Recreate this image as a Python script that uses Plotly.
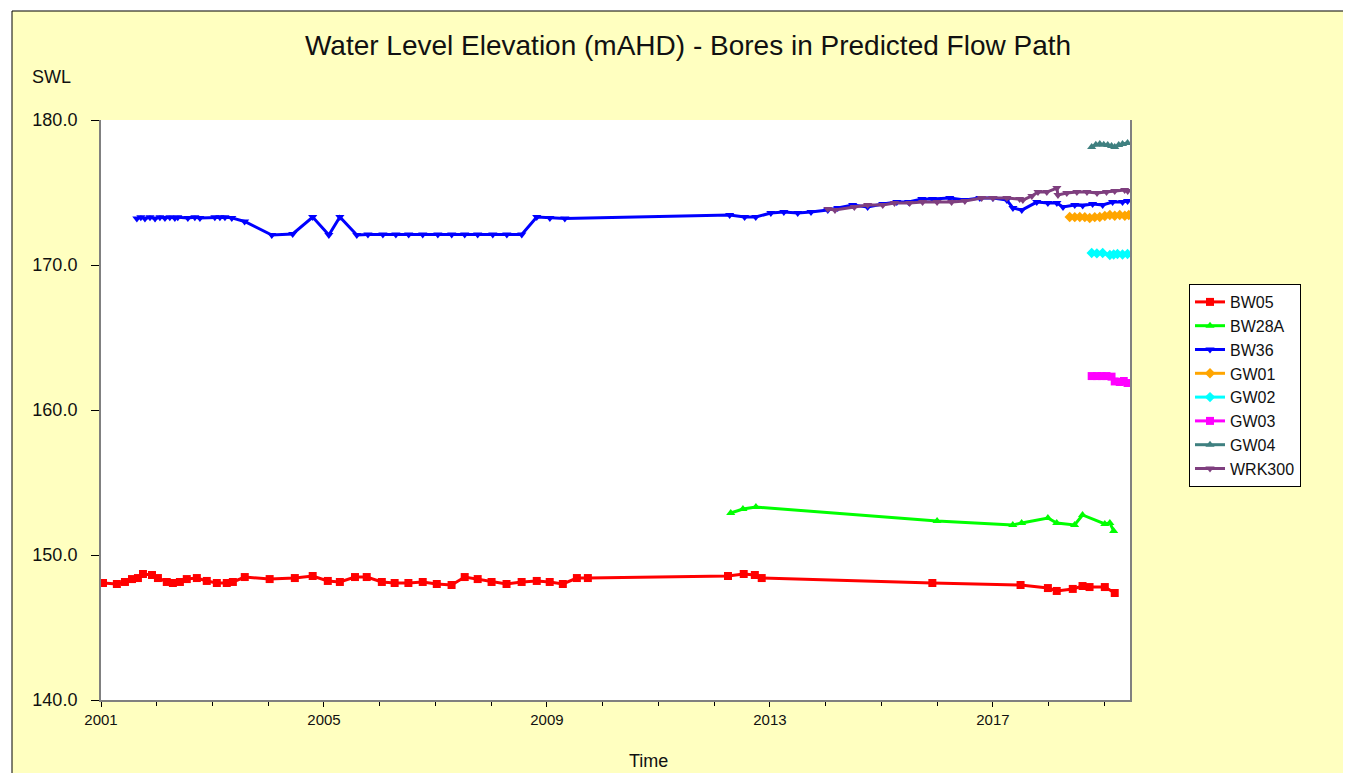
import plotly.graph_objects as go

# --- data (dates, SWL mAHD) ---
bw05_dates = [
    "2001-01-14", "2001-04-15", "2001-06-07", "2001-07-23", "2001-08-31", "2001-10-03",
    "2001-12-01", "2002-01-09", "2002-03-08", "2002-04-17", "2002-06-02", "2002-07-17",
    "2002-09-21", "2002-11-25", "2003-01-30", "2003-04-05", "2003-05-15", "2003-08-01",
    "2004-01-11", "2004-06-24", "2004-10-19", "2005-01-26", "2005-04-15", "2005-07-23",
    "2005-10-08", "2006-01-15", "2006-04-09", "2006-07-08", "2006-10-10", "2007-01-10",
    "2007-04-17", "2007-07-12", "2007-10-05", "2008-01-04", "2008-04-11", "2008-07-19",
    "2008-10-26", "2009-01-19", "2009-04-15", "2009-07-16", "2009-09-26",
    "2012-04-01", "2012-07-13", "2012-09-24", "2012-11-08", "2015-12-01", "2017-07-01",
    "2017-12-27", "2018-02-23", "2018-06-08", "2018-08-11", "2018-09-26", "2019-01-04",
    "2019-03-10",
]
bw05_swl = [
    148.07, 148.00, 148.14, 148.34, 148.41, 148.69,
    148.62, 148.41, 148.14, 148.07, 148.14, 148.34,
    148.41, 148.21, 148.07, 148.07, 148.14, 148.48,
    148.34, 148.41, 148.55, 148.21, 148.14, 148.48,
    148.48, 148.14, 148.07, 148.07, 148.14, 148.00,
    147.93, 148.48, 148.34, 148.14, 148.00, 148.14,
    148.21, 148.14, 148.00, 148.41, 148.41,
    148.55, 148.69, 148.62, 148.41, 148.07, 147.93,
    147.72, 147.52, 147.66, 147.86, 147.79, 147.79,
    147.38,
]

bw28a_dates = [
    "2012-04-19", "2012-07-08", "2012-10-01", "2016-01-01", "2017-05-11", "2017-07-08",
    "2017-12-27", "2018-02-23", "2018-06-20", "2018-08-11", "2019-01-04", "2019-02-06",
    "2019-03-03",
]
bw28a_swl = [
    152.90, 153.17, 153.31, 152.34, 152.07, 152.21,
    152.55, 152.21, 152.07, 152.76, 152.14, 152.21,
    151.66,
]

bw36_dates = [
    "2001-08-24", "2001-09-19", "2001-10-16", "2001-11-18", "2001-12-21", "2002-01-22",
    "2002-02-24", "2002-03-28", "2002-04-30", "2002-05-19", "2002-07-24", "2002-09-08",
    "2002-10-11", "2003-01-17", "2003-02-19", "2003-03-24", "2003-05-08", "2003-07-31",
    "2004-01-25", "2004-06-10", "2004-10-19", "2005-02-02", "2005-04-15", "2005-08-04",
    "2005-10-16", "2006-01-22", "2006-04-17", "2006-07-10", "2006-10-10", "2007-01-17",
    "2007-04-18", "2007-07-12", "2007-10-05", "2008-01-12", "2008-04-13", "2008-07-20",
    "2008-10-26", "2009-01-20", "2009-04-28",
    "2012-04-12", "2012-07-19", "2012-09-30", "2013-01-07", "2013-04-02", "2013-07-02",
    "2013-09-27", "2014-01-15", "2014-03-21", "2014-06-27", "2014-10-03", "2015-01-10",
    "2015-04-12", "2015-06-28", "2015-09-23", "2015-12-02", "2016-03-24", "2016-07-01",
    "2016-10-07", "2017-01-01", "2017-04-02", "2017-05-12", "2017-07-09", "2017-10-15",
    "2017-12-27", "2018-02-24", "2018-04-05", "2018-06-21", "2018-08-12", "2018-10-16",
    "2018-12-21", "2019-02-24", "2019-04-30", "2019-06-02",
]
bw36_swl = [
    173.20, 173.30, 173.20, 173.30, 173.20, 173.30,
    173.25, 173.30, 173.25, 173.30, 173.25, 173.30,
    173.25, 173.30, 173.30, 173.30, 173.25, 173.00,
    172.07, 172.14, 173.31, 172.07, 173.31, 172.07,
    172.10, 172.10, 172.10, 172.10, 172.10, 172.10,
    172.10, 172.10, 172.10, 172.10, 172.10, 172.10,
    173.31, 173.25, 173.20,
    173.45, 173.31, 173.31, 173.59, 173.66, 173.59,
    173.66, 173.79, 173.93, 174.14, 174.00, 174.21,
    174.34, 174.34, 174.55, 174.55, 174.62, 174.48,
    174.62, 174.62, 174.48, 173.93, 173.79, 174.34,
    174.28, 174.28, 174.00, 174.14, 174.10, 174.21,
    174.14, 174.34, 174.34, 174.41,
]

gw01_dates = [
    "2018-05-19", "2018-06-21", "2018-07-24", "2018-08-26", "2018-09-27", "2018-10-30",
    "2018-12-02", "2019-01-04", "2019-02-06", "2019-03-10", "2019-04-12", "2019-05-15",
    "2019-06-10",
]
gw01_swl = [
    173.31, 173.30, 173.31, 173.30, 173.24, 173.30,
    173.31, 173.38, 173.45, 173.40, 173.45, 173.40,
    173.45,
]

gw02_dates = [
    "2018-10-10", "2018-11-13", "2018-12-21", "2019-02-06", "2019-03-03", "2019-03-28",
    "2019-04-30", "2019-06-02",
]
gw02_swl = [170.83, 170.80, 170.83, 170.69, 170.72, 170.76, 170.72, 170.76]

gw03_dates = [
    "2018-10-10", "2018-11-13", "2018-12-14", "2019-01-15", "2019-02-17", "2019-03-10",
    "2019-04-12", "2019-05-08", "2019-06-02",
]
gw03_swl = [162.34, 162.34, 162.34, 162.34, 162.30, 161.97, 161.93, 162.00, 161.86]

gw04_dates = [
    "2018-10-10", "2018-11-06", "2018-12-02", "2018-12-28", "2019-01-23", "2019-02-17",
    "2019-03-10", "2019-04-05", "2019-04-30", "2019-06-02",
]
gw04_swl = [178.14, 178.30, 178.34, 178.30, 178.27, 178.20, 178.14, 178.27, 178.34, 178.41]

wrk300_dates = [
    "2014-01-15", "2014-03-03", "2014-07-08", "2014-10-03", "2015-01-10", "2015-03-28",
    "2015-07-05", "2015-09-28", "2016-01-01", "2016-04-05", "2016-07-01", "2016-10-19",
    "2017-01-01", "2017-04-02", "2017-06-25", "2017-07-16", "2017-09-13", "2017-10-23",
    "2017-12-20", "2018-02-24", "2018-03-03", "2018-04-30", "2018-07-05", "2018-09-09",
    "2018-11-14", "2019-01-15", "2019-03-10", "2019-05-14", "2019-06-03",
]
wrk300_swl = [
    173.86, 173.80, 174.00, 174.14, 174.14, 174.28,
    174.28, 174.34, 174.34, 174.34, 174.41, 174.62,
    174.62, 174.62, 174.55, 174.48, 174.76, 175.03,
    175.03, 175.31, 174.83, 174.97, 175.03, 175.03,
    174.97, 175.03, 175.10, 175.17, 175.10,
]

series = [
    ("BW05", bw05_dates, bw05_swl, "#ff0000", "square"),
    ("BW28A", bw28a_dates, bw28a_swl, "#00ff00", "triangle-up"),
    ("BW36", bw36_dates, bw36_swl, "#0000ff", "triangle-down"),
    ("GW01", gw01_dates, gw01_swl, "#ffa500", "diamond"),
    ("GW02", gw02_dates, gw02_swl, "#00ffff", "diamond"),
    ("GW03", gw03_dates, gw03_swl, "#ff00ff", "square"),
    ("GW04", gw04_dates, gw04_swl, "#3f8080", "triangle-up"),
    ("WRK300", wrk300_dates, wrk300_swl, "#7f3f7f", "triangle-down"),
]

FONT = "Liberation Sans, Arial, sans-serif"
PANEL = "#ffffc0"

# the page body has an 8px margin, so the figure is sized to end at the window edge
W, H = 1343, 765
ML, MT, PW, PH = 93, 112, 1029, 580

fig = go.Figure()

for name, dates, swl, colour, symbol in series:
    fig.add_trace(go.Scatter(
        x=dates,
        y=swl,
        name=name,
        mode="lines+markers",
        line=dict(color=colour, width=3),
        marker=dict(color=colour, symbol=symbol, size=8),
    ))

fig.update_layout(
    width=W,
    height=H,
    margin=dict(l=ML, r=W - ML - PW, t=MT, b=H - MT - PH),
    paper_bgcolor="white",
    plot_bgcolor="white",
    font=dict(family=FONT, color="#111111", size=15),
    title=dict(
        text="Water Level Elevation (mAHD) - Bores in Predicted Flow Path",
        x=(680 - ML) / PW, xref="paper", xanchor="center",
        y=1 - 37 / H, yref="container", yanchor="middle",
        font=dict(size=28, family=FONT, color="#111111"),
    ),
    legend=dict(
        x=(1181 - ML) / PW, y=(MT + PH - 276) / PH, xanchor="left", yanchor="top",
        bgcolor="white", bordercolor="black", borderwidth=1,
        font=dict(size=16, family=FONT, color="#111111"),
    ),
    showlegend=True,
)

fig.update_xaxes(
    type="date",
    range=["2001-01-01", "2019-06-18"],
    tick0="2001-01-01",
    dtick="M48",
    tickformat="%Y",
    ticks="outside",
    ticklen=5,
    tickcolor="black",
    tickfont=dict(size=15),
    showgrid=False,
    zeroline=False,
    showline=True,
    linecolor="#808080",
    linewidth=2,
    minor=dict(ticks="outside", dtick="M12", tick0="2001-01-01", ticklen=4,
               tickcolor="black", showgrid=False),
)

fig.update_yaxes(
    range=[140, 180],
    dtick=10,
    tickformat=".1f",
    ticks="outside",
    ticklen=8,
    tickcolor="black",
    tickfont=dict(size=18),
    ticklabelstandoff=10,
    showgrid=False,
    zeroline=False,
    showline=True,
    linecolor="#808080",
    linewidth=2,
    mirror=True,
)

# yellow chart panel with its black frame, then the white plot area over it
fig.add_shape(
    type="rect", xref="paper", yref="paper",
    x0=(4 - ML) / PW, x1=1.5, y0=-0.5, y1=(MT + PH - 3) / PH,
    line=dict(color="black", width=1), fillcolor=PANEL, layer="below",
)
fig.add_shape(
    type="rect", xref="paper", yref="paper",
    x0=0, x1=1, y0=0, y1=1,
    line=dict(width=0), fillcolor="white", layer="below",
)

fig.add_annotation(
    text="SWL", xref="paper", yref="paper",
    x=(22 - ML) / PW, y=(MT + PH - 69) / PH,
    xanchor="left", yanchor="middle", showarrow=False,
    font=dict(size=18, family=FONT, color="#111111"),
)
fig.add_annotation(
    text="Time", xref="paper", yref="paper",
    x=(640 - ML) / PW, y=(MT + PH - 753) / PH,
    xanchor="center", yanchor="middle", showarrow=False,
    font=dict(size=18, family=FONT, color="#111111"),
)

fig.write_html("out.html")
